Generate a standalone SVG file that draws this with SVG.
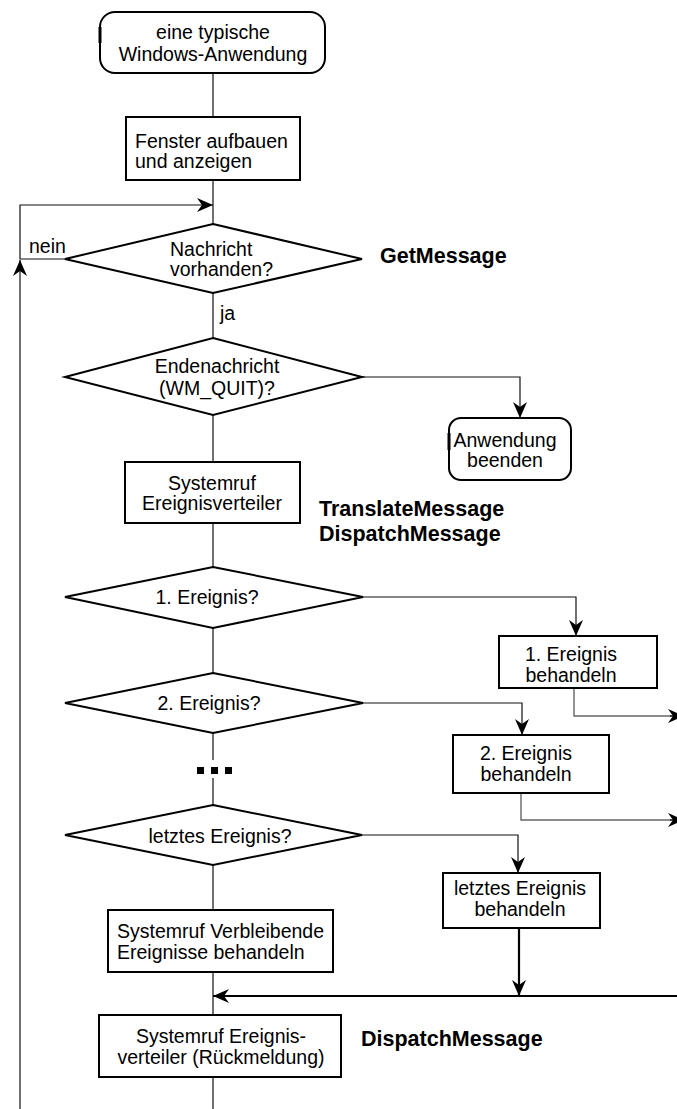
<svg xmlns="http://www.w3.org/2000/svg" width="677" height="1109" viewBox="0 0 677 1109">
<style>
.box{fill:#fff;stroke:#000;stroke-width:2}
.c{fill:none;stroke:#111;stroke-width:1.2}
.g{fill:none;stroke:#666;stroke-width:1.4}
.t{fill:none;stroke:#000;stroke-width:2.2}
text{font-family:"Liberation Sans",Arial,sans-serif;font-size:19.5px;fill:#000}
.m{text-anchor:middle}
.b{font-weight:bold;font-size:21.5px}
.cur{stroke:#000;stroke-width:3}
</style>
<defs>
<marker id="a" markerUnits="userSpaceOnUse" viewBox="-18 -8 19 16" refX="0" refY="0" markerWidth="19" markerHeight="16" orient="auto">
<path d="M0,0 L-16,-7 L-11,0 L-16,7 Z" fill="#000"/>
</marker>
</defs>
<g id="connectors">
<path class="c" d="M213,73 V117"/>
<path class="c" d="M213,180 V224"/>
<path class="c" d="M65,259 H20 V205 H213" marker-end="url(#a)"/>
<path class="c" d="M20,1109 V260" marker-end="url(#a)"/>
<path class="c" d="M213,293 V338"/>
<path class="c" d="M362,377 H520 V418" marker-end="url(#a)"/>
<path class="c" d="M213,415 V462"/>
<path class="c" d="M213,523 V567"/>
<path class="c" d="M362,597 H576 V636" marker-end="url(#a)"/>
<path class="g" d="M574,688 V716 H684"/>
<path class="c" d="M670,716 H684" marker-end="url(#a)"/>
<path class="c" d="M213,628 V673"/>
<path class="c" d="M362,703 H522 V735" marker-end="url(#a)"/>
<path class="g" d="M521,793 V820 H684"/>
<path class="c" d="M670,820 H684" marker-end="url(#a)"/>
<path class="c" d="M213,733 V760"/>
<path class="c" d="M213,778 V805"/>
<path class="c" d="M362,835 H518 V873" marker-end="url(#a)"/>
<path class="c" d="M213,865 V910"/>
<path class="t" d="M519,928 V996" marker-end="url(#a)"/>
<path class="t" d="M677,996 H213" marker-end="url(#a)"/>
<path class="c" d="M213,972 V1015"/>
<path class="c" d="M213,1077 V1109"/>
<text x="29" y="253">nein</text>
<text x="220" y="320">ja</text>
</g>
<g id="start">
<rect class="box" x="100" y="12" width="225" height="61" rx="15"/>
<line class="cur" x1="100" y1="27" x2="100" y2="43"/>
<text class="m" x="213" y="39">eine typische</text>
<text class="m" x="213" y="61">Windows-Anwendung</text>
</g>
<g id="fenster">
<rect class="box" x="126" y="117" width="174" height="63"/>
<text x="135" y="148">Fenster aufbauen</text>
<text x="135" y="168">und anzeigen</text>
</g>
<g id="nachricht">
<polygon class="box" points="213,224 362,259 213,293 65,259"/>
<text x="170" y="256">Nachricht</text>
<text x="170" y="276">vorhanden?</text>
</g>
<g id="getmessage"><text class="b" x="380" y="263">GetMessage</text></g>
<g id="ende">
<polygon class="box" points="213,338 362,377 213,415 65,377"/>
<text class="m" x="217" y="373">Endenachricht</text>
<text class="m" x="217" y="395">(WM_QUIT)?</text>
</g>
<g id="beenden">
<rect class="box" x="449" y="418" width="122" height="62" rx="12"/>
<line class="cur" x1="449" y1="433" x2="449" y2="450"/>
<text class="m" x="505" y="447">Anwendung</text>
<text class="m" x="505" y="467">beenden</text>
</g>
<g id="verteiler">
<rect class="box" x="125" y="462" width="175" height="61"/>
<text class="m" x="212" y="490">Systemruf</text>
<text class="m" x="212" y="510">Ereignisverteiler</text>
</g>
<g id="translate">
<text class="b" x="319" y="516">TranslateMessage</text>
<text class="b" x="319" y="541">DispatchMessage</text>
</g>
<g id="e1">
<polygon class="box" points="213,567 363,597 213,628 65,597"/>
<text class="m" x="207" y="604">1. Ereignis?</text>
</g>
<g id="e1b">
<rect class="box" x="499" y="636" width="158" height="52"/>
<text class="m" x="571" y="661">1. Ereignis</text>
<text class="m" x="571" y="682">behandeln</text>
</g>
<g id="e2">
<polygon class="box" points="213,673 363,703 213,733 65,703"/>
<text class="m" x="209" y="710">2. Ereignis?</text>
</g>
<g id="e2b">
<rect class="box" x="453" y="735" width="156" height="58"/>
<text class="m" x="526" y="760">2. Ereignis</text>
<text class="m" x="526" y="781">behandeln</text>
</g>
<g id="dots">
<rect x="197" y="767" width="7" height="7" fill="#000"/>
<rect x="211" y="767" width="7" height="7" fill="#000"/>
<rect x="225" y="767" width="7" height="7" fill="#000"/>
</g>
<g id="e3">
<polygon class="box" points="213,805 362,835 213,865 65,835"/>
<text class="m" x="220" y="843">letztes Ereignis?</text>
</g>
<g id="e3b">
<rect class="box" x="443" y="873" width="157" height="55"/>
<text class="m" x="520" y="895">letztes Ereignis</text>
<text class="m" x="520" y="916">behandeln</text>
</g>
<g id="verbleibende">
<rect class="box" x="108" y="910" width="225" height="62"/>
<text x="117" y="938">Systemruf Verbleibende</text>
<text x="117" y="959">Ereignisse behandeln</text>
</g>
<g id="rueck">
<rect class="box" x="99" y="1015" width="242" height="62"/>
<text class="m" x="221" y="1043">Systemruf Ereignis-</text>
<text class="m" x="221" y="1064">verteiler (Rückmeldung)</text>
</g>
<g id="dispatch2"><text class="b" x="361" y="1046">DispatchMessage</text></g>
</svg>
